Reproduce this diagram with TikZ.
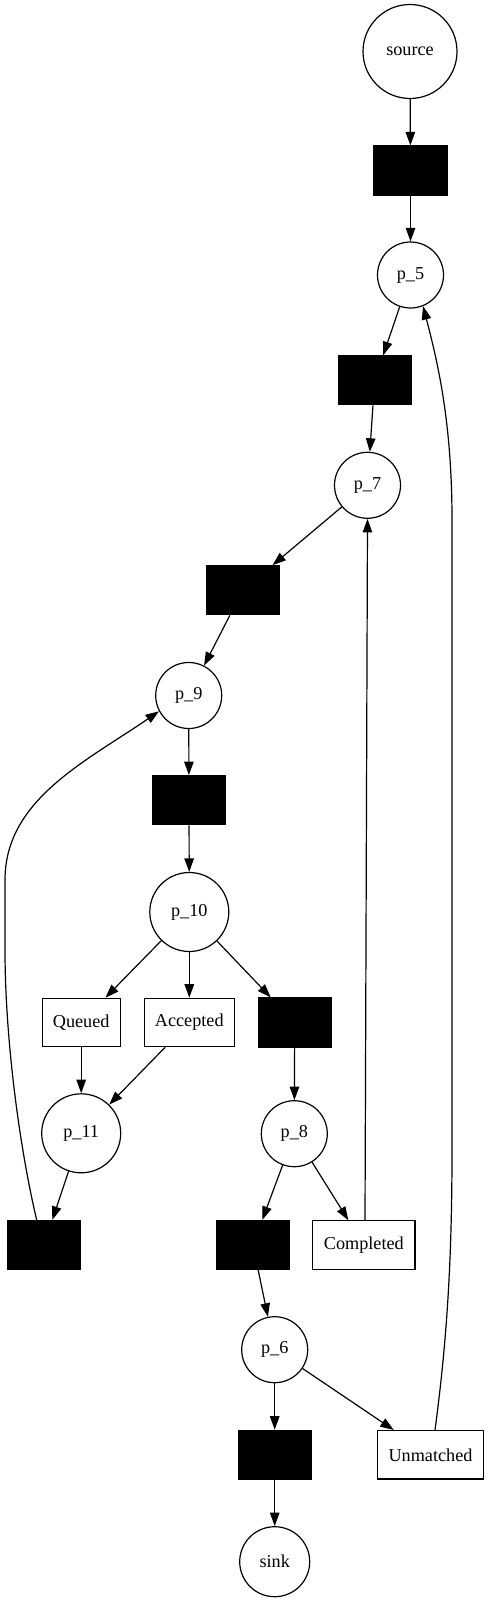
\documentclass[tikz,border=0pt]{standalone}
\usepackage{fontspec}
\setmainfont{Liberation Serif}
\usetikzlibrary{arrows.meta,calc}
\begin{document}
\begin{tikzpicture}[x=1pt,y=-1pt,
  every node/.style={font=\fontsize{18.2}{22}\selectfont, inner sep=0pt},
  place/.style={circle,draw,line width=1.2pt,minimum size=66pt},
  bigplace/.style={circle,draw,line width=1.2pt,minimum size=79pt},
  trans/.style={rectangle,draw,fill=black,line width=1.2pt,minimum width=73pt,minimum height=49pt},
  label box/.style={rectangle,draw,line width=1.2pt,minimum height=48.4pt},
  arc/.style={draw,line width=1.2pt,-{Triangle[length=13.5pt,width=9.5pt]}}]
\useasboundingbox (0,0) rectangle (489,1602);
\node[place,minimum size=94pt] (source) at (410,51.5) {source};
\node[trans] (t1) at (410.5,170.5) {};
\node[place] (p5) at (410.5,275) {p\_5};
\node[trans] (t2) at (374.7,380.3) {};
\node[place] (p7) at (367.5,485.3) {p\_7};
\node[trans] (t3) at (242.7,590.3) {};
\node[place] (p9) at (188.7,695.5) {p\_9};
\node[trans] (t4) at (189,800.2) {};
\node[bigplace] (p10) at (189.3,912) {p\_10};
\node[label box,minimum width=78pt] (queued) at (81.2,1022.5) {Queued};
\node[label box,minimum width=90pt] (accepted) at (189.3,1022.5) {Accepted};
\node[trans] (t5) at (294.7,1022.5) {};
\node[bigplace] (p11) at (81.2,1133.3) {p\_11};
\node[place] (p8) at (294.3,1133.7) {p\_8};
\node[trans] (t6) at (44,1245) {};
\node[trans] (t7) at (253,1245) {};
\node[label box,minimum width=102.3pt] (completed) at (363.8,1245) {Completed};
\node[place] (p6) at (274.7,1349.7) {p\_6};
\node[trans] (t8) at (274.7,1454.8) {};
\node[label box,minimum width=105.6pt] (unmatched) at (430.5,1454.8) {Unmatched};
\node[place,minimum size=70pt] (sink) at (274.7,1561.7) {sink};

\draw[arc] (source) -- (t1);
\draw[arc] (t1) -- (p5);
\draw[arc] (p5) -- (t2);
\draw[arc] (t2) -- (p7);
\draw[arc] (p7) -- (t3);
\draw[arc] (t3) -- (p9);
\draw[arc] (p9) -- (t4);
\draw[arc] (t4) -- (p10);
\draw[arc] (p10) -- (queued);
\draw[arc] (p10) -- (accepted);
\draw[arc] (p10) -- (t5);
\draw[arc] (queued) -- (p11);
\draw[arc] (accepted) -- (p11);
\draw[arc] (t5) -- (p8);
\draw[arc] (p11) -- (t6);
\draw[arc] (p8) -- (t7);
\draw[arc] (p8) -- (completed);
\draw[arc] (t7) -- (p6);
\draw[arc] (p6) -- (t8);
\draw[arc] (p6) -- (unmatched);
\draw[arc] (t8) -- (sink);

\draw[arc] ($(t6.north)+(-7.3,0)$) .. controls (20,1150) and (5,1040) .. (5,950)
  -- (5,880) .. controls (5,800) and (85,762) .. (p9.208);
\draw[arc] ($(completed.north)+(1.2,0)$) -- (p7.south);
\draw[arc] ($(unmatched.north)+(4.5,0)$) .. controls (447,1340) and (452,1260) .. (452,1150)
  -- (452,520) .. controls (452,420) and (437,360) .. (p5.292.5);
\end{tikzpicture}
\end{document}
